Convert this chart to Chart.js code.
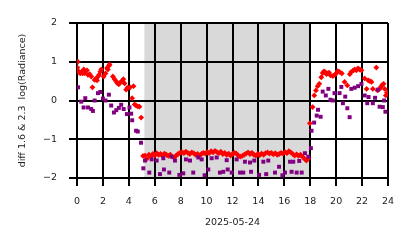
<!DOCTYPE html>
<html>
<head>
<meta charset="utf-8">
<script src="https://cdn.jsdelivr.net/npm/chart.js@4/dist/chart.umd.min.js"></script>
<style>
  html, body { margin: 0; padding: 0; background: #fff; }
  #wrap { width: 414px; height: 248px; }
</style>
</head>
<body>
<div id="wrap"><canvas id="diffChart"></canvas></div>
<script>
// ---------------------------------------------------------------------------
// data (hours of 2025-05-24)
// ---------------------------------------------------------------------------
const nightStart = 5.2;
const nightEnd = 18;

const xTicks = [0, 2, 4, 6, 8, 10, 12, 14, 16, 18, 20, 22, 24];
const yTicks = [-2, -1, 0, 1, 2];

// 1.6 - 2.3 diff, red diamonds
const redHours = [
    // morning
    0.06, 0.03, 0.1, 0.2, 0.26, 0.33, 0.45, 0.52, 0.59, 0.77, 0.85, 0.98, 1.1, 1.19, 1.36, 1.45, 1.55,
    1.62, 1.7, 1.8, 1.87, 2.06, 2.2, 2.32, 2.38, 2.48, 2.51, 2.77, 2.9, 3.03, 3.13, 3.23, 3.35,
    3.49, 3.58, 3.67, 3.79, 3.9, 4.1, 4.25, 4.36, 4.45, 4.56, 4.7, 4.82, 4.95,
    // night
    5.1, 5.25, 5.4, 5.55, 5.7, 5.85, 6.0, 6.15, 6.3, 6.45, 6.6, 6.75, 6.9, 7.05, 7.2, 7.35, 7.5, 7.65,
    7.8, 7.95, 8.1, 8.25, 8.4, 8.55, 8.7, 8.85, 9.0, 9.15, 9.3, 9.45, 9.6, 9.75, 9.9, 10.05, 10.2,
    10.35, 10.5, 10.65, 10.8, 10.95, 11.1, 11.25, 11.4, 11.55, 11.7, 11.85, 12.0, 12.15, 12.3, 12.45,
    12.6, 12.75, 12.9, 13.05, 13.2, 13.35, 13.5, 13.65, 13.8, 13.95, 14.1, 14.25, 14.4, 14.55, 14.7,
    14.85, 15.0, 15.15, 15.3, 15.45, 15.6, 15.75, 15.9, 16.05, 16.2, 16.35, 16.5, 16.65, 16.8, 16.95,
    17.1, 17.25, 17.4, 17.55, 17.7, 17.85,
    // evening
    17.97, 18.18, 18.31, 18.44, 18.57, 18.7, 18.85, 18.96, 19.05, 19.14, 19.25, 19.35, 19.45, 19.56,
    19.74, 19.88, 20.0, 20.12, 20.26, 20.44, 20.65, 20.86, 21.05, 21.17, 21.3, 21.43, 21.56, 21.69,
    21.82, 21.95, 22.2, 22.35, 22.47, 22.6, 22.73, 22.83, 23.1, 23.2, 23.35, 23.45, 23.55, 23.66,
    23.75, 23.83, 23.92
];
const redValues = [
    // morning
    1.0, 0.85, 0.76, 0.72, 0.7, 0.73, 0.7, 0.8, 0.71, 0.78, 0.66, 0.68, 0.62, 0.34, 0.53, 0.56, 0.52,
    0.62, 0.66, 0.74, 0.8, 0.62, 0.7, 0.84, 0.8, 0.9, 0.93, 0.62, 0.55, 0.49, 0.44, 0.42, 0.47,
    0.51, 0.55, 0.44, 0.28, 0.33, 0.34, 0.06, 0.37, -0.1, -0.13, -0.15, -0.16, -0.44,
    // night
    -1.43, -1.42, -1.5, -1.4, -1.45, -1.38, -1.42, -1.36, -1.4, -1.38, -1.42, -1.37, -1.4, -1.43, -1.4,
    -1.45, -1.47, -1.42, -1.38, -1.35, -1.33, -1.36, -1.32, -1.35, -1.38, -1.34, -1.36, -1.4, -1.38,
    -1.42, -1.38, -1.35, -1.37, -1.33, -1.36, -1.31, -1.34, -1.3, -1.33, -1.36, -1.32, -1.38, -1.35,
    -1.4, -1.37, -1.42, -1.38, -1.35, -1.37, -1.42, -1.45, -1.43, -1.4, -1.37, -1.34, -1.38, -1.35,
    -1.4, -1.42, -1.38, -1.41, -1.37, -1.4, -1.36, -1.34, -1.37, -1.35, -1.39, -1.36, -1.4, -1.38,
    -1.35, -1.37, -1.33, -1.36, -1.31, -1.34, -1.38, -1.42, -1.39, -1.43, -1.4, -1.45, -1.5, -1.55,
    -1.5,
    // evening
    -0.59, -0.17, 0.13, 0.26, 0.37, 0.43, 0.6, 0.71, 0.75, 0.74, 0.68, 0.7, 0.72, 0.65, 0.63, 0.66,
    0.7, 0.76, 0.74, 0.7, 0.48, 0.39, 0.68, 0.74, 0.77, 0.8, 0.78, 0.83, 0.8, 0.78, 0.57, 0.3, 0.52,
    0.5, 0.48, 0.3, 0.85, 0.26, 0.3, 0.35, 0.4, 0.43, 0.3, 0.13, 0.2
];

// purple squares
const purpleHours = [
    // morning
    0.08, 0.33, 0.51, 0.64, 0.85, 1.1, 1.23, 1.36, 1.62, 1.8, 2.0, 2.2, 2.46, 2.64, 2.85, 3.03,
    3.23, 3.41, 3.6, 3.85, 4.05, 4.18, 4.26, 4.56, 4.69, 4.94,
    // night
    5.12, 5.25, 5.58, 5.76, 6.15, 6.4, 6.66, 6.71, 7.12, 7.3, 7.56, 7.9, 8.2, 8.41, 8.72, 8.97,
    9.36, 9.62, 9.85, 10.13, 10.39, 10.78, 11.03, 11.29, 11.55, 11.63, 11.94, 12.32, 12.58, 12.83,
    12.96, 13.35, 13.43, 13.68, 14.05, 14.38, 14.6, 14.76, 15.28, 15.59, 15.85, 16.05, 16.44,
    16.56, 16.69, 16.95, 17.15, 17.34, 17.59, 17.85,
    // evening
    18.05, 18.1, 18.3, 18.5, 18.6, 18.8, 18.96, 19.2, 19.4, 19.56, 19.74, 19.87, 20.26, 20.4,
    20.52, 20.7, 20.86, 21.04, 21.17, 21.43, 21.69, 21.95, 22.2, 22.4, 22.5, 22.83, 23.0, 23.2,
    23.35, 23.6, 23.7, 23.8
];
const purpleValues = [
    // morning
    0.34, -0.03, -0.18, 0.06, -0.18, -0.22, -0.27, 0.0, 0.19, 0.22, 0.05, 0.0, 0.15, -0.13, -0.31,
    -0.25, -0.19, -0.11, -0.22, -0.35, -0.18, -0.34, -0.51, -0.78, -0.8, -1.09,
    // night
    -1.75, -1.55, -1.86, -1.52, -1.55, -1.9, -1.49, -1.78, -1.86, -1.45, -1.55, -1.92, -1.88, -1.52,
    -1.55, -1.86, -1.47, -1.52, -1.93, -1.78, -1.49, -1.47, -1.86, -1.84, -1.54, -1.78, -1.86,
    -1.52, -1.86, -1.86, -1.58, -1.6, -1.84, -1.55, -1.92, -1.58, -1.9, -1.55, -1.86, -1.71, -1.93,
    -1.86, -1.58, -1.84, -1.58, -1.86, -1.56, -1.86, -1.36, -1.45,
    // evening
    -1.23, -0.78, -0.57, -0.39, -0.24, -0.42, 0.23, 0.13, 0.3, 0.02, 0.0, 0.19, 0.19, 0.35, -0.07,
    0.1, -0.2, -0.43, 0.3, 0.33, 0.37, 0.43, 0.13, -0.07, 0.09, -0.07, 0.07, 0.28, -0.16, -0.17,
    0.0, -0.29
];

const toPoints = (xs, ys) => xs.map((x, i) => ({ x: x, y: ys[i] }));

// gray band for the dark hours, drawn before the grid
const nightBand = {
    id: "nightBand",
    beforeDraw(chart) {
        const { ctx, chartArea, scales } = chart;
        const x0 = scales.x.getPixelForValue(nightStart);
        const x1 = scales.x.getPixelForValue(nightEnd);
        ctx.save();
        ctx.fillStyle = "#d9d9d9";
        ctx.fillRect(x0, chartArea.top, x1 - x0, chartArea.bottom - chartArea.top);
        ctx.restore();
    },
};

const font = { family: "DejaVu Sans", size: 9.5 };

new Chart(document.getElementById("diffChart"), {
    type: "scatter",
    data: {
        datasets: [
            {
                label: "purple",
                data: toPoints(purpleHours, purpleValues),
                pointStyle: "rect",
                pointRadius: 2.8,
                backgroundColor: "#800080",
                borderWidth: 0,
            },
            {
                label: "red",
                data: toPoints(redHours, redValues),
                pointStyle: "rectRot",
                pointRadius: 2.9,
                backgroundColor: "#ff0000",
                borderWidth: 0,
            },
        ],
    },
    options: {
        responsive: true,
        maintainAspectRatio: false,
        animation: false,
        layout: { padding: { left: 0, right: 26, top: 23, bottom: 0 } },
        plugins: {
            legend: { display: false },
            tooltip: { enabled: false },
        },
        scales: {
            x: {
                type: "linear",
                min: 0,
                max: 24,
                afterFit: (s) => { s.height = 70; },
                afterBuildTicks: (s) => { s.ticks = xTicks.map((v) => ({ value: v })); },
                ticks: { font: font, color: "#222", padding: 10 },
                grid: { color: "#000", lineWidth: 2, tickLength: 8, tickColor: "#000" },
                border: { display: false },
                title: { display: true, text: "2025-05-24", font: font, color: "#222", padding: { top: 0, bottom: 20 } },
            },
            y: {
                min: -2,
                max: 2,
                afterFit: (s) => { s.width = 77; },
                afterBuildTicks: (s) => { s.ticks = yTicks.map((v) => ({ value: v })); },
                ticks: {
                    font: font,
                    color: "#222",
                    padding: 12,
                    callback: (v) => (v < 0 ? "\u2212" + Math.abs(v) : String(v)),
                },
                grid: { color: "#000", lineWidth: 2, tickLength: 8, tickColor: "#000" },
                border: { display: false },
                title: { display: true, text: "diff 1.6 & 2.3  log(Radiance)", font: font, color: "#222", padding: { top: 17, bottom: 0 } },
            },
        },
    },
    plugins: [nightBand],
});
</script>
</body>
</html>
